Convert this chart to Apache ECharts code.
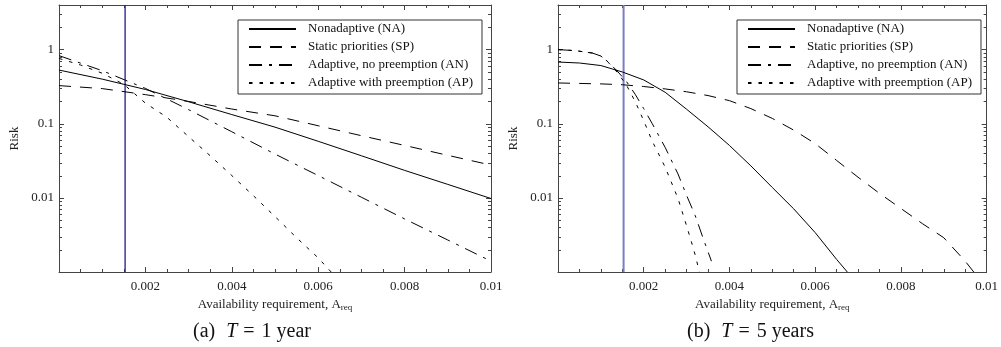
<!DOCTYPE html>
<html><head><meta charset="utf-8">
<script src="https://cdn.jsdelivr.net/npm/echarts@6/dist/echarts.min.js"></script>
<style>html,body{margin:0;padding:0;background:#fff}#c{width:1001px;height:347px}</style>
</head><body><div id="c"></div>
<script>
// ---------- DATA ----------
const seriesNames = ['Nonadaptive (NA)', 'Static priorities (SP)', 'Adaptive, no preemption (AN)', 'Adaptive with preemption (AP)'];

// Panel (a): T = 1 year
const a_NA_x = [0, 0.001, 0.002, 0.003, 0.004, 0.005, 0.006, 0.007, 0.008, 0.009, 0.01];
const a_NA_y = [0.53, 0.40, 0.29, 0.198, 0.133, 0.090, 0.058, 0.037, 0.0235, 0.0152, 0.0098];
const a_SP_x = [0, 0.001, 0.002, 0.003, 0.004, 0.005, 0.006, 0.007, 0.008, 0.009, 0.01];
const a_SP_y = [0.327, 0.298, 0.247, 0.200, 0.158, 0.128, 0.094, 0.069, 0.051, 0.0375, 0.0277];
const a_AN_x = [0, 0.001, 0.002, 0.003, 0.004, 0.005, 0.006, 0.007, 0.008, 0.009, 0.01];
const a_AN_y = [0.83, 0.52, 0.30, 0.155, 0.078, 0.039, 0.020, 0.0102, 0.0052, 0.0027, 0.0014];
const a_AP_x = [0, 0.0005, 0.001, 0.0015, 0.002, 0.0025, 0.003, 0.0035, 0.004, 0.0045, 0.005, 0.0055, 0.006, 0.0063];
const a_AP_y = [0.76, 0.62, 0.48, 0.34, 0.19, 0.122, 0.067, 0.037, 0.020, 0.0107, 0.0056, 0.0029, 0.00155, 0.001];
const a_threshold = 0.00153;

// Panel (b): T = 5 years
const b_NA_x = [0, 0.0005, 0.001, 0.0015, 0.002, 0.0025, 0.003, 0.0035, 0.004, 0.0045, 0.005, 0.0055, 0.006, 0.0065, 0.00675];
const b_NA_y = [0.68, 0.66, 0.61, 0.50, 0.39, 0.266, 0.157, 0.091, 0.051, 0.027, 0.0138, 0.0071, 0.0034, 0.00148, 0.001];
const b_SP_x = [0, 0.0005, 0.001, 0.0015, 0.002, 0.0025, 0.003, 0.0035, 0.004, 0.0045, 0.005, 0.0055, 0.006, 0.0065, 0.007, 0.0075, 0.008, 0.0085, 0.009, 0.0095, 0.0097];
const b_SP_y = [0.355, 0.35, 0.345, 0.336, 0.318, 0.295, 0.27, 0.24, 0.205, 0.16, 0.118, 0.082, 0.054, 0.032, 0.019, 0.0115, 0.0072, 0.0045, 0.0029, 0.0014, 0.001];
const b_AN_x = [0, 0.0004, 0.0008, 0.001, 0.0012, 0.0014, 0.0016, 0.0018, 0.002, 0.0022, 0.0025, 0.0028, 0.003, 0.0032, 0.0034, 0.00358];
const b_AN_y = [1.0, 0.97, 0.9, 0.82, 0.66, 0.5, 0.37, 0.25, 0.16, 0.1, 0.048, 0.021, 0.0108, 0.0058, 0.0027, 0.0014];
const b_AP_x = [0, 0.0004, 0.0008, 0.001, 0.0012, 0.0014, 0.0016, 0.0018, 0.002, 0.0022, 0.0025, 0.0028, 0.003, 0.0031, 0.0032, 0.0033];
const b_AP_y = [1.0, 0.97, 0.9, 0.82, 0.65, 0.48, 0.33, 0.2, 0.11, 0.058, 0.026, 0.0098, 0.0042, 0.0027, 0.0017, 0.001];
const b_threshold = 0.00153;

// Axis ranges, ticks, labels
const xMin = 0, xMax = 0.01, xStep = 0.002;
const yMin = 0.001, yMax = 4;
const xTickValues = [0.002, 0.004, 0.006, 0.008, 0.01];
const xTickLabels = ['0.002', '0.004', '0.006', '0.008', '0.01'];
const yTickValues = [1, 0.1, 0.01];
const yTickLabels = ['1', '0.1', '0.01'];
const yMinorTicks = [0.002, 0.003, 0.004, 0.005, 0.006, 0.007, 0.008, 0.009,
                     0.02, 0.03, 0.04, 0.05, 0.06, 0.07, 0.08, 0.09,
                     0.2, 0.3, 0.4, 0.5, 0.6, 0.7, 0.8, 0.9, 2, 3];
const xAxisTitle = 'Availability requirement, A{s|req}';
const yAxisTitle = 'Risk';
const captions = [['(a)', 'T', '=', '1 year'], ['(b)', 'T', '=', '5 years']];

// ---------- STYLE ----------
const FONT = '"Liberation Serif", "DejaVu Serif", serif';
const FRAME = '#444';
const dashes = ['solid', [12, 9], [13, 7, 3, 7], [3.5, 7]];
const threshColors = ['#1c1c8c', '#7b7cc6'];
const threshWidths = [1.3, 2];

const pairs = (xs, ys) => xs.map((x, i) => [x, ys[i]]);
const panels = [
  {xs: [a_NA_x, a_SP_x, a_AN_x, a_AP_x], ys: [a_NA_y, a_SP_y, a_AN_y, a_AP_y], th: a_threshold},
  {xs: [b_NA_x, b_SP_x, b_AN_x, b_AP_x], ys: [b_NA_y, b_SP_y, b_AN_y, b_AP_y], th: b_threshold}
];
const grids = [
  {left: 59, top: 5, width: 432, height: 267},
  {left: 558, top: 5, width: 433, height: 267}
];

const xLabelFmt = v => {
  const i = xTickValues.findIndex(t => Math.abs(t - v) < 1e-9);
  return i >= 0 ? xTickLabels[i] : '';
};
const yLabelFmt = v => {
  const i = yTickValues.findIndex(t => Math.abs(Math.log10(v) - Math.log10(t)) < 1e-6);
  return i >= 0 ? yTickLabels[i] : '';
};

const xAxes = [], yAxes = [], series = [], legends = [], graphics = [];
grids.forEach((g, gi) => {
  ['bottom', 'top'].forEach(pos => {
    xAxes.push({
      gridIndex: gi, type: 'value', position: pos, min: xMin, max: xMax, interval: xStep,
      axisLine: {show: true, onZero: false, lineStyle: {color: FRAME, width: 1}},
      axisTick: {show: true, inside: true, length: 5, lineStyle: {color: FRAME}},
      minorTick: {show: true, splitNumber: 4, length: 3, lineStyle: {color: FRAME}},
      splitLine: {show: false},
      axisLabel: {show: pos === 'bottom', formatter: xLabelFmt, margin: 8,
                  fontFamily: FONT, fontSize: 13, color: '#222'},
      name: pos === 'bottom' ? xAxisTitle : '',
      nameLocation: 'middle', nameGap: 25,
      nameTextStyle: {fontFamily: FONT, fontSize: 13, color: '#222',
        rich: {s: {fontFamily: FONT, fontSize: 9, color: '#222', verticalAlign: 'bottom', padding: [6, 0, 0, 0]}}}
    });
  });
  ['left', 'right'].forEach(pos => {
    yAxes.push({
      gridIndex: gi, type: 'log', logBase: 10, position: pos, min: yMin, max: yMax,
      axisLine: {show: true, onZero: false, lineStyle: {color: FRAME, width: 1}},
      axisTick: {show: true, inside: true, length: 5, lineStyle: {color: FRAME}},
      minorTick: {show: false},
      splitLine: {show: false},
      axisLabel: {show: pos === 'left', formatter: yLabelFmt, margin: 5, showMinLabel: false, showMaxLabel: false,
                  fontFamily: FONT, fontSize: 13, color: '#222'},
      name: pos === 'left' ? yAxisTitle : '',
      nameLocation: 'middle', nameGap: 38, nameRotate: 90,
      nameTextStyle: {fontFamily: FONT, fontSize: 13, color: '#222'}
    });
  });
  const xi = gi * 2, yi = gi * 2;
  const p = panels[gi];
  // threshold vertical line (drawn first so curves sit over it)
  series.push({
    type: 'line', xAxisIndex: xi, yAxisIndex: yi, silent: true, animation: false,
    data: [[p.th, yMin], [p.th, yMax]],
    symbol: 'none', showSymbol: false, clip: true,
    lineStyle: {color: threshColors[gi], width: threshWidths[gi], type: 'solid'}
  });
  seriesNames.forEach((name, si) => {
    series.push({
      name, type: 'line', xAxisIndex: xi, yAxisIndex: yi,
      data: pairs(p.xs[si], p.ys[si]),
      symbol: 'none', showSymbol: false, smooth: false, clip: true, silent: true, animation: false,
      lineStyle: {color: '#000', width: 1, type: dashes[si]},
      itemStyle: {color: '#000'}
    });
  });
  series.push({
    type: 'custom', xAxisIndex: xi, yAxisIndex: yi, silent: true, animation: false,
    data: yMinorTicks.map(v => [xMin, v]),
    renderItem: (params, api) => {
      const cs = params.coordSys;
      const y = Math.round(api.coord([xMin, api.value(1)])[1]) + 0.5;
      return {type: 'group', children: [
        {type: 'line', shape: {x1: cs.x, y1: y, x2: cs.x + 3, y2: y}, style: {stroke: FRAME, lineWidth: 1}},
        {type: 'line', shape: {x1: cs.x + cs.width - 3, y1: y, x2: cs.x + cs.width, y2: y}, style: {stroke: FRAME, lineWidth: 1}}
      ]};
    }
  });
  legends.push({
    data: seriesNames, orient: 'vertical', left: g.left + 179, top: 20,
    padding: [2, 9, 4, 10], itemGap: 4, itemWidth: 47, itemHeight: 14,
    borderColor: '#333', borderWidth: 1, backgroundColor: '#fff',
    selectedMode: false,
    itemStyle: {opacity: 0},
    lineStyle: {opacity: 1},
    textStyle: {fontFamily: FONT, fontSize: 13, color: '#111', lineHeight: 14, padding: [0, 0, 0, 7]}
  });
  const c = captions[gi];
  graphics.push({
    type: 'text', left: gi === 0 ? 193 : 687, top: 322,
    style: {
      text: '{n|' + c[0] + '}{t|' + c[1] + '}{e|' + c[2] + '}{n|' + c[3] + '}',
      rich: {
        n: {fontFamily: FONT, fontSize: 20, fill: '#111'},
        t: {fontFamily: FONT, fontSize: 20, fontStyle: 'italic', fill: '#111', padding: [0, 0, 0, 11]},
        e: {fontFamily: FONT, fontSize: 20, fill: '#111', padding: [0, 7, 0, 6]}
      }
    }
  });
});

const chart = echarts.init(document.getElementById('c'), null, {renderer: 'canvas'});
chart.setOption({
  animation: false,
  backgroundColor: '#fff',
  grid: grids,
  xAxis: xAxes,
  yAxis: yAxes,
  legend: legends,
  series: series,
  graphic: graphics
});
</script>
</body></html>
